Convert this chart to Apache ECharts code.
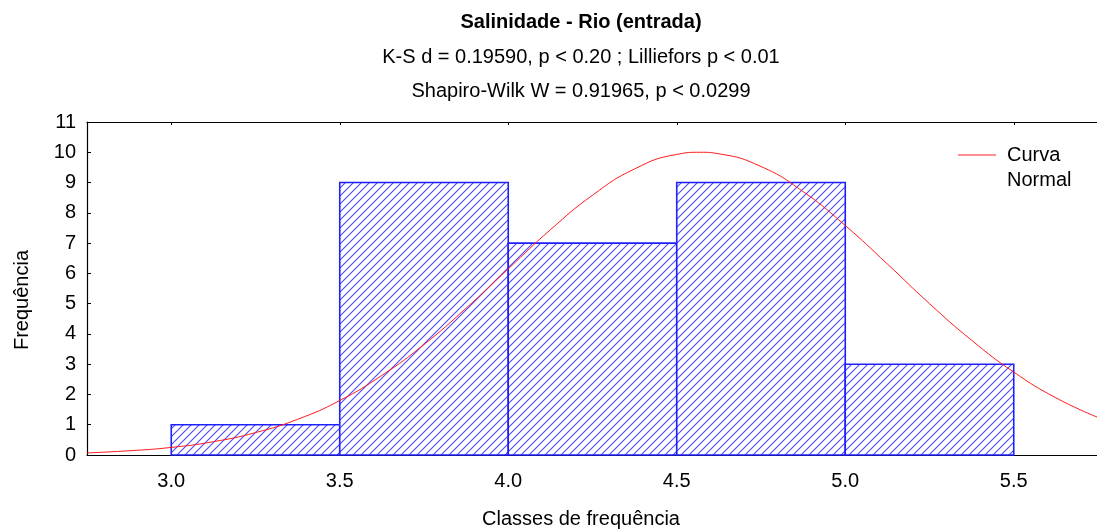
<!DOCTYPE html>
<html>
<head>
<meta charset="utf-8">
<script src="https://cdn.jsdelivr.net/npm/echarts@6/dist/echarts.min.js"></script>
<style>
  html, body { margin: 0; padding: 0; background: #fff; }
  #chart { width: 1097px; height: 529px; }
</style>
</head>
<body>
<div id="chart"></div>
<script>
// Histogram classes (lower bound, upper bound) and their counts
const classStart = [3.0, 3.5, 4.0, 4.5, 5.0];
const classEnd   = [3.5, 4.0, 4.5, 5.0, 5.5];
const counts     = [1, 9, 7, 9, 3];

// Fitted normal curve, sampled along the x range
const curveX = [2.75, 2.875, 3.0, 3.125, 3.25, 3.375, 3.5, 3.625, 3.75, 3.875, 4.0, 4.125,
                4.25, 4.375, 4.5, 4.57, 4.625, 4.75, 4.875, 5.0, 5.125, 5.25, 5.375, 5.5, 5.625, 5.75];
const curveY = [0.07, 0.14, 0.25, 0.44, 0.74, 1.18, 1.80, 2.63, 3.65, 4.85, 6.15, 7.44,
                8.58, 9.45, 9.93, 10.0, 9.95, 9.53, 8.70, 7.58, 6.31, 5.00, 3.79, 2.74, 1.89, 1.24];

// Labelled class boundaries on the x axis
const xTicks = [3.0, 3.5, 4.0, 4.5, 5.0, 5.5];

const FONT = '"Liberation Sans", Arial, sans-serif';
const FS = 20;
const BLUE = '#1f1fff';

// Diagonal hatch tile for the bars
function hatchTile() {
  const c = document.createElement('canvas');
  const s = 8;
  c.width = s; c.height = s;
  const g = c.getContext('2d');
  g.fillStyle = '#ffffff';
  g.fillRect(0, 0, s, s);
  g.strokeStyle = '#4a4aff';
  g.lineWidth = 1.1;
  g.beginPath();
  g.moveTo(-1, s + 1); g.lineTo(s + 1, -1);
  g.moveTo(-1, 1); g.lineTo(1, -1);
  g.moveTo(s - 1, s + 1); g.lineTo(s + 1, s - 1);
  g.stroke();
  return c;
}
const hatch = { image: hatchTile(), repeat: 'repeat' };

const barData = classStart.map((s, i) => [s, classEnd[i], counts[i]]);
const curveData = curveX.map((x, i) => [x, curveY[i]]);

const chart = echarts.init(document.getElementById('chart'), null, { renderer: 'canvas' });

const titleStyle = (bold) => ({
  fontFamily: FONT, fontSize: FS, fontWeight: bold ? 'bold' : 'normal', color: '#000'
});

chart.setOption({
  animation: false,
  backgroundColor: '#ffffff',
  textStyle: { fontFamily: FONT },
  title: [
    { text: 'Salinidade - Rio (entrada)', left: 576, top: 7, textAlign: 'center', textStyle: titleStyle(true) },
    { text: 'K-S d = 0.19590, p < 0.20 ; Lilliefors p < 0.01', left: 576, top: 42, textAlign: 'center', textStyle: titleStyle(false) },
    { text: 'Shapiro-Wilk W = 0.91965, p < 0.0299', left: 576, top: 76, textAlign: 'center', textStyle: titleStyle(false) },
    { text: 'Classes de frequência', left: 576, top: 504, textAlign: 'center', textStyle: titleStyle(false) }
  ],
  grid: { left: 87, right: -1, top: 122, bottom: 74, containLabel: false, outerBoundsMode: 'none' },
  xAxis: [
    {
      type: 'value', min: 2.75, max: 5.75, interval: 0.25,
      axisLine: { show: true, lineStyle: { color: '#000', width: 1.2 } },
      axisTick: { show: false },
      splitLine: { show: false },
      axisLabel: {
        color: '#000', fontSize: FS, fontFamily: FONT, margin: 16,
        customValues: xTicks,
        formatter: v => v.toFixed(1)
      }
    },
    {
      type: 'value', position: 'top', min: 2.75, max: 5.75, interval: 0.25,
      axisLine: { show: true, lineStyle: { color: '#000', width: 1.2 } },
      axisTick: { show: true, inside: true, length: 3, customValues: xTicks, lineStyle: { color: '#000' } },
      axisLabel: { show: false },
      splitLine: { show: false }
    }
  ],
  yAxis: {
    type: 'value', min: 0, max: 11, interval: 1,
    axisLine: { show: true, lineStyle: { color: '#000', width: 1.2 } },
    axisTick: { show: true, inside: true, length: 4, lineStyle: { color: '#000' } },
    splitLine: { show: false },
    axisLabel: { color: '#000', fontSize: FS, fontFamily: FONT, margin: 11 }
  },
  graphic: [
    { type: 'text', x: 22, y: 300, rotation: Math.PI / 2,
      style: { text: 'Frequência', fill: '#000', font: FS + 'px ' + FONT, align: 'center', verticalAlign: 'middle' } },
    { type: 'line', shape: { x1: 958, y1: 155, x2: 996, y2: 155 },
      style: { stroke: '#ff2020', lineWidth: 1 } },
    { type: 'text', x: 1007, y: 143,
      style: { text: 'Curva\nNormal', fill: '#000', font: FS + 'px ' + FONT, lineHeight: 25 } }
  ],
  series: [
    {
      type: 'custom',
      xAxisIndex: 0, yAxisIndex: 0,
      data: barData,
      encode: { x: [0, 1], y: 2 },
      renderItem: function (params, api) {
        const p0 = api.coord([api.value(0), 0]);
        const p1 = api.coord([api.value(1), api.value(2)]);
        return {
          type: 'rect',
          shape: { x: p0[0], y: p1[1], width: p1[0] - p0[0], height: p0[1] - p1[1] },
          style: { fill: hatch, stroke: BLUE, lineWidth: 1.6 }
        };
      },
      z: 2
    },
    {
      type: 'line',
      xAxisIndex: 0, yAxisIndex: 0,
      data: curveData,
      smooth: true,
      showSymbol: false,
      symbol: 'none',
      lineStyle: { color: '#ff1a1a', width: 1 },
      clip: true,
      z: 3
    }
  ]
});
</script>
</body>
</html>
